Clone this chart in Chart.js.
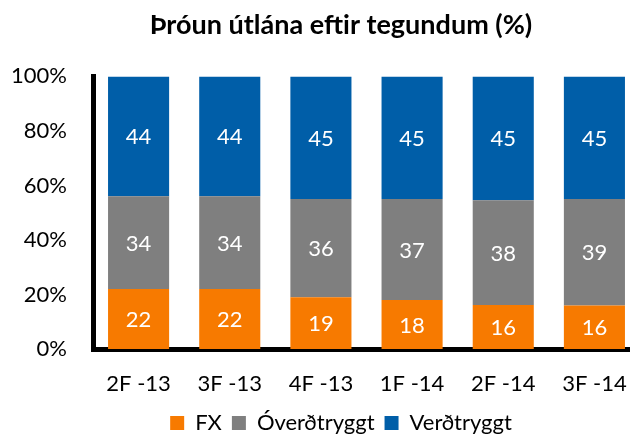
<!DOCTYPE html>
<html>
<head>
	<title>Þróun útlána eftir tegundum</title>
	<script src="https://cdn.jsdelivr.net/npm/chart.js"></script>
	<style>
		body { margin: 0; background: #fff; }
		#wrap { width: 630px; height: 434px; overflow: hidden; }
	</style>
</head>
<body>
	<div id="wrap"><canvas id="myChart" width="682" height="434"></canvas></div>

	<script>
		const quarters = ['2F -13', '3F -13', '4F -13', '1F -14', '2F -14', '3F -14'];
		const fx = [22, 22, 19, 18, 16, 16];
		const overdtryggt = [34, 34, 36, 37, 38, 39];
		const verdtryggt = [44, 44, 45, 45, 45, 45];

		const fontName = 'Lato';

		// 100% stacked: each bar scaled to its own total, labels keep the shown numbers
		const totals = quarters.map((q, i) => fx[i] + overdtryggt[i] + verdtryggt[i]);
		const share = arr => arr.map((v, i) => v / totals[i] * 100);

		// white numbers in the middle of each bar piece
		const barLabels = {
			id: 'barLabels',
			afterDatasetsDraw(chart) {
				const ctx = chart.ctx;
				ctx.save();
				ctx.fillStyle = '#fff';
				ctx.font = '22px ' + fontName;
				ctx.textAlign = 'center';
				ctx.textBaseline = 'middle';
				chart.data.datasets.forEach((ds, i) => {
					chart.getDatasetMeta(i).data.forEach((bar, j) => {
						const mid = (bar.y + bar.base) / 2;
						ctx.fillText(ds.shown[j], bar.x, mid + 1);
					});
				});
				ctx.restore();
			}
		};

		const ctx = document.getElementById('myChart').getContext('2d');
		const chart = new Chart(ctx, {
			type: 'bar',
			data: {
				labels: quarters,
				datasets: [
					{ label: 'FX', data: share(fx), shown: fx, backgroundColor: '#f77a00' },
					{ label: 'Óverðtryggt', data: share(overdtryggt), shown: overdtryggt, backgroundColor: '#7f7f7f' },
					{ label: 'Verðtryggt', data: share(verdtryggt), shown: verdtryggt, backgroundColor: '#005ea8' }
				]
			},
			options: {
				responsive: false,
				animation: false,
				categoryPercentage: 1,
				barPercentage: 0.67,
				layout: { padding: { left: 0, right: 0, top: 9, bottom: -10 } },
				plugins: {
					title: {
						display: true,
						text: 'Þróun útlána eftir tegundum (%)',
						color: '#000',
						font: { family: fontName, size: 27, weight: 'bold' },
						padding: { top: 0, bottom: 35 }
					},
					legend: {
						position: 'bottom',
						labels: {
							color: '#000',
							font: { family: fontName, size: 22 },
							boxWidth: 14,
							boxHeight: 14,
							padding: 10
						}
					},
					tooltip: { enabled: false }
				},
				scales: {
					x: {
						stacked: true,
						afterFit(scale) { scale.height = 53; },
						grid: { display: false, drawTicks: false },
						border: { display: true, color: '#000', width: 5 },
						ticks: { color: '#000', padding: 22, font: { family: fontName, size: 22 } }
					},
					y: {
						stacked: true,
						min: 0,
						max: 100,
						afterFit(scale) { scale.width = 93; },
						grid: { display: false, drawTicks: false },
						border: { display: true, color: '#000', width: 5 },
						ticks: {
							stepSize: 20,
							color: '#000',
							padding: 26,
							font: { family: fontName, size: 22 },
							callback: v => v + '%'
						}
					},
					// empty strip on the right so the plot runs past the window edge
					yRight: {
						position: 'right',
						afterFit(scale) { scale.width = 42; },
						grid: { display: false, drawTicks: false },
						border: { display: false },
						ticks: { display: false }
					}
				}
			},
			plugins: [barLabels]
		});
	</script>
</body>
</html>
